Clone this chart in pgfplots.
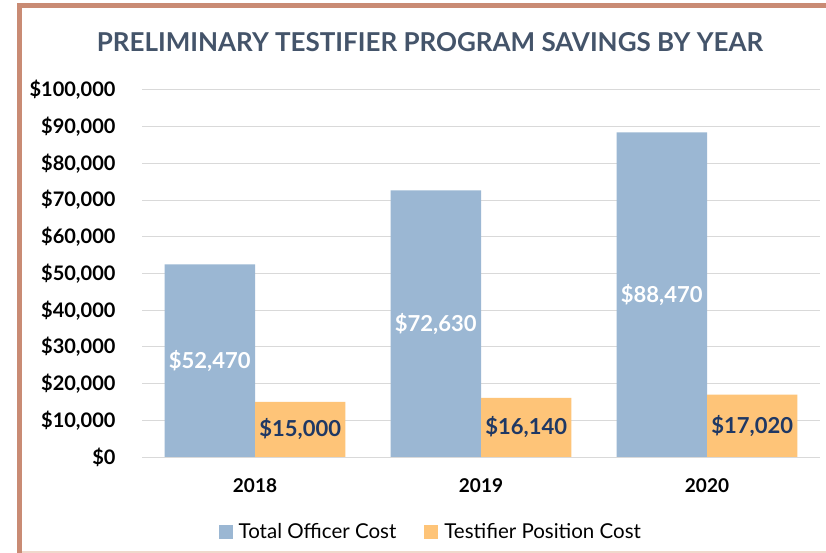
\documentclass[border=0pt]{standalone}
\usepackage{pgfplots}
\pgfplotsset{compat=1.18}
\usepackage{fontspec}
\setmainfont{Lato}
\definecolor{bluebar}{RGB}{155,183,211}
\definecolor{orangebar}{RGB}{254,196,120}
\definecolor{navy}{RGB}{31,56,100}
\definecolor{titlec}{RGB}{68,84,106}
\definecolor{framec}{RGB}{201,139,116}
\definecolor{framelight}{RGB}{240,216,204}
\definecolor{gridc}{RGB}{217,217,217}
\begin{document}
\begin{tikzpicture}
\path[use as bounding box] (0bp,0bp) rectangle (826bp,553bp);
\fill[white] (0bp,0bp) rectangle (826bp,553bp);
\fill[framec] (17bp,0bp) rectangle (22bp,550bp);
\fill[framec] (17bp,545bp) rectangle (826bp,550bp);
\fill[framelight] (22bp,0.5bp) rectangle (826bp,2bp);
\node[anchor=base, text=titlec, inner sep=0pt] at (430bp,501bp) {\resizebox{666bp}{19bp}{\bfseries PRELIMINARY TESTIFIER PROGRAM SAVINGS BY YEAR}};
\begin{axis}[
  at={(142bp,96bp)}, anchor=south west,
  scale only axis, width=678bp, height=367bp,
  xmin=-0.5, xmax=2.5, ymin=0, ymax=100000,
  ybar=0pt, bar width=0.4,
  xtick={0,1,2}, xticklabels={2018,2019,2020},
  ytick={0,10000,20000,30000,40000,50000,60000,70000,80000,90000,100000},
  yticklabels={{\$0},{\$10,000},{\$20,000},{\$30,000},{\$40,000},{\$50,000},{\$60,000},{\$70,000},{\$80,000},{\$90,000},{\$100,000}},
  ymajorgrids, grid style={gridc, line width=1bp},
  axis line style={draw=none}, tick style={draw=none},
  yticklabel style={font=\fontsize{20bp}{22bp}\selectfont\bfseries, text=black, xshift=-23bp},
  xticklabel style={font=\fontsize{19bp}{21bp}\selectfont\bfseries, text=black, yshift=-14bp},
  scaled y ticks=false,
  point meta=explicit symbolic,
  nodes near coords,
  visualization depends on=y \as \rawy,
  every node near coord/.append style={anchor=center, shift={(axis direction cs:0,{-\rawy/2})}, font=\fontsize{22bp}{24bp}\selectfont\bfseries},
  legend style={at={(0.426,-0.204)}, anchor=center, draw=none, legend columns=2, font=\fontsize{20.5bp}{22bp}\selectfont, /tikz/every even column/.append style={column sep=26bp}},
  legend image code/.code={\fill[#1] (0bp,-7bp) rectangle (14bp,7bp); \path (18bp,0bp);},
]
\addplot[fill=bluebar, draw=none, every node near coord/.append style={text=white}] coordinates {(0,52470) [\$52,470] (1,72630) [\$72,630] (2,88470) [\$88,470]};
\addplot[fill=orangebar, draw=none, every node near coord/.append style={text=navy}] coordinates {(0,15000) [\$15,000] (1,16140) [\$16,140] (2,17020) [\$17,020]};
\legend{Total Officer Cost, Testifier Position Cost}
\end{axis}
\end{tikzpicture}
\end{document}
